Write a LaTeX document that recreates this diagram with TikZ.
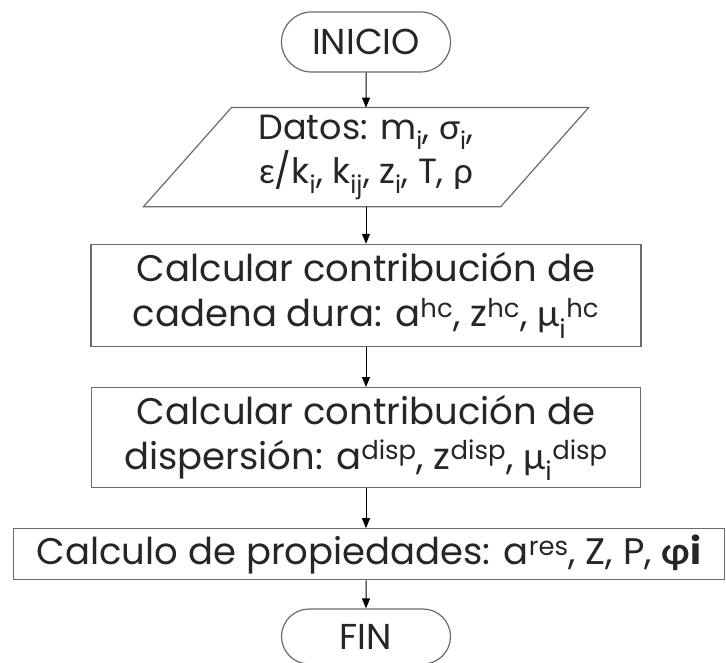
\documentclass[tikz,border=0pt]{standalone}
\usepackage{fontspec}
\setmainfont{Poppins}
\newfontfamily\grfont{Lato}
\usetikzlibrary{positioning,shapes.misc,arrows.meta}

\definecolor{linegray}{HTML}{6B6B6B}
\definecolor{textgray}{HTML}{262626}
\newcommand{\gr}[1]{{\grfont #1}}

\tikzset{
  terminal/.style={rounded rectangle, draw=linegray, line width=1.2pt,
    minimum width=169pt, minimum height=60pt, inner sep=0pt,
    font=\fontsize{36}{42}\selectfont},
  process/.style={rectangle, draw=linegray, line width=1.2pt,
    inner sep=0pt, align=center, font=\fontsize{37}{45}\selectfont},
  flow/.style={-{Triangle[length=10pt,width=8pt]}, line width=1pt}
}

\begin{document}
\begin{tikzpicture}[text=textgray]
	\useasboundingbox (0,0) rectangle (726pt,-663pt);

	\node[terminal] (inicio) at (366pt,-42pt) {INICIO};
	\node[process, draw=none, minimum width=356pt, minimum height=98pt,
		font=\fontsize{35}{41}\selectfont, below=35pt of inicio] (datos)
		{Datos: m\textsubscript{i}, \gr{σ}\textsubscript{i},\\
		 \gr{ε}/k\textsubscript{i}, k\textsubscript{ij}, z\textsubscript{i}, T, \gr{ρ}};
	\draw[linegray, line width=1.2pt]
		([xshift=44pt]datos.north west) -- ([xshift=44pt]datos.north east)
		-- ([xshift=-44pt]datos.south east) -- ([xshift=-44pt]datos.south west) -- cycle;
	\node[process, minimum width=550pt, minimum height=102pt,
		below=37pt of datos] (hc)
		{Calcular contribución de\\
		 cadena dura: a\textsuperscript{hc}, z\textsuperscript{hc}, \gr{μ}\textsubscript{i}\textsuperscript{hc}};
	\node[process, minimum width=549pt, minimum height=100pt,
		below=40pt of hc] (disp)
		{Calcular contribución de\\
		 dispersión: a\textsuperscript{disp}, z\textsuperscript{disp}, \gr{μ}\textsubscript{i}\textsuperscript{disp}};
	\node[process, minimum width=711pt, minimum height=51pt,
		below=40pt of disp, xshift=3pt] (prop)
		{Calculo de propiedades: a\textsuperscript{res}, Z, P, \textbf{\gr{φ}i}};
	\node[terminal, minimum height=55pt, below=28pt of prop.south -| inicio] (fin) {FIN};

	% flechas
	\draw[flow] (inicio) -- (datos);
	\draw[flow] (datos) -- (hc);
	\draw[flow] (hc) -- (disp);
	\draw[flow] (disp) -- (prop.north -| disp);
	\draw[flow] (prop.south -| fin) -- (fin);
\end{tikzpicture}
\end{document}
